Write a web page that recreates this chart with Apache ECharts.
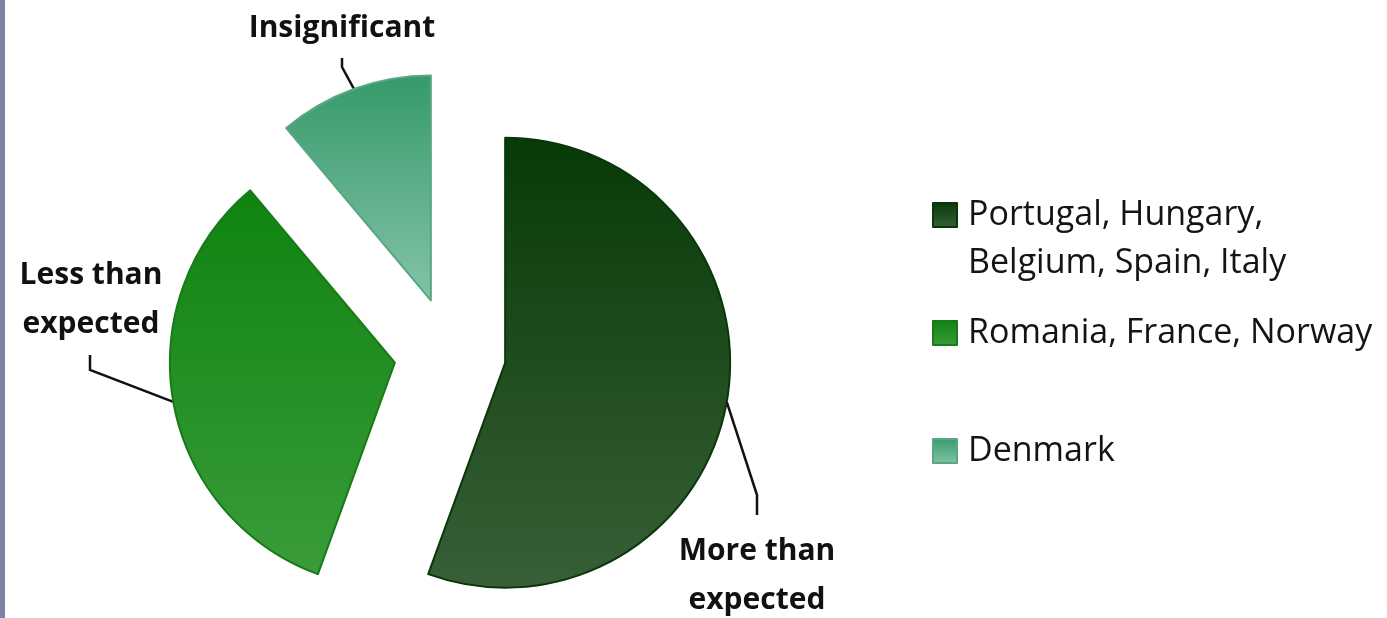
<!DOCTYPE html>
<html>
<head>
<meta charset="utf-8">
<title>Pie</title>
<script src="https://cdn.jsdelivr.net/npm/echarts@6/dist/echarts.min.js"></script>
<style>
  html, body { margin: 0; padding: 0; background: #ffffff; }
  #frame { position: absolute; left: 0; top: 0; width: 1387px; height: 618px; box-sizing: border-box; border-left: 5px solid #7c83a3; }
  #chart { width: 1382px; height: 618px; }
</style>
</head>
<body>
<div id="frame"><div id="chart"></div></div>
<script>
// Countries in each group and how many there are
const groupNames = ['Portugal, Hungary, Belgium, Spain, Italy', 'Romania, France, Norway', 'Denmark'];
const legendLines = [['', 'Portugal, Hungary,', 'Belgium, Spain, Italy'], ['Romania, France, Norway'], ['Denmark']];
const groupCounts = [5, 3, 1];
const sliceLabels = ['More than\nexpected', 'Less than\nexpected', 'Insignificant'];

// Slice fills: top colour, bottom colour, edge colour
const fillTop = ['#073a07', '#0f830f', '#369a6a'];
const fillBottom = ['#385f38', '#3a9c3a', '#84c3a8'];
const edgeColors = ['#0a360a', '#187a18', '#58a682'];

// Callout text positions and the bend points of their leader lines
const labelCenters = [[752, 576], [86, 300], [337, 28]];
const leaderBends = [
  [[752, 495], [752, 515]],
  [[85, 370], [85, 355]],
  [[337, 67], [337, 58]]
];
// Where along each slice's arc the leader line starts (0 = start angle, 1 = end angle)
const leaderAt = [0.5, 0.5, 0.5];

const explode = 56;

function gradient(i) {
  return new echarts.graphic.LinearGradient(0, 0, 0, 1, [
    { offset: 0, color: fillTop[i] },
    { offset: 1, color: fillBottom[i] }
  ]);
}

const seriesData = groupNames.map((name, i) => ({
  name: name,
  value: groupCounts[i],
  selected: true,
  itemStyle: { color: gradient(i), borderColor: edgeColors[i], borderWidth: 2 }
}));

const legendTops = [143, 309, 427];
const legends = groupNames.map((name, i) => ({
  data: [name],
  orient: 'vertical',
  left: 927,
  top: legendTops[i],
  padding: 0,
  itemWidth: 24,
  itemHeight: 24,
  itemGap: 0,
  icon: 'rect',
  selectedMode: false,
  formatter: () => legendLines[i].map(s => '{t|' + s + '}').join('\n'),
  textStyle: {
    fontFamily: 'Open Sans',
    fontSize: 34,
    lineHeight: 48,
    color: '#141414',
    rich: {
      t: { fontFamily: 'Open Sans', fontSize: 34, lineHeight: 48, color: '#141414', padding: [0, 0, 0, 6] }
    }
  }
}));

const chart = echarts.init(document.getElementById('chart'), null, { renderer: 'canvas' });
chart.setOption({
  animation: false,
  legend: legends,
  series: [{
    type: 'pie',
    center: [445, 353],
    radius: 225,
    startAngle: 90,
    clockwise: true,
    selectedMode: 'multiple',
    selectedOffset: explode,
    select: { itemStyle: {} },
    emphasis: { disabled: true },
    label: { show: false },
    labelLine: { show: false },
    data: seriesData
  }]
});

// Callouts: leader lines start on each slice's outer arc, taken from the pie layout
const pieData = chart.getModel().getSeriesByIndex(0).getData();
const callouts = [];
sliceLabels.forEach((text, i) => {
  const lay = pieData.getItemLayout(i);
  const mid = (lay.startAngle + lay.endAngle) / 2;
  const a = lay.startAngle + (lay.endAngle - lay.startAngle) * leaderAt[i];
  const cx = lay.cx + Math.cos(mid) * explode;
  const cy = lay.cy + Math.sin(mid) * explode;
  const edge = [cx + Math.cos(a) * lay.r, cy + Math.sin(a) * lay.r];
  callouts.push({
    type: 'polyline',
    silent: true,
    shape: { points: [edge].concat(leaderBends[i]) },
    style: { stroke: '#111111', lineWidth: 2.5, fill: null }
  });
  callouts.push({
    type: 'text',
    silent: true,
    x: labelCenters[i][0],
    y: labelCenters[i][1],
    style: {
      text: text,
      align: 'center',
      verticalAlign: 'middle',
      fontFamily: 'Open Sans',
      fontWeight: 'bold',
      fontSize: 30,
      lineHeight: 49,
      fill: '#111111'
    }
  });
});
chart.setOption({ graphic: callouts });
</script>
</body>
</html>
